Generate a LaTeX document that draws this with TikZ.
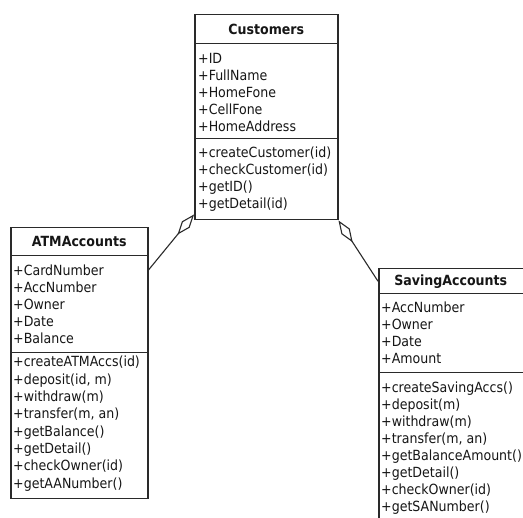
\documentclass[tikz,border=0pt]{standalone}
\usepackage{fontspec}
\setmainfont{DejaVu Sans Condensed}
\usetikzlibrary{arrows.meta,calc}
\definecolor{ink}{HTML}{161616}
\definecolor{rule}{HTML}{2A2A2A}
\begin{document}
\begin{tikzpicture}[x=1pt,y=-1pt,
  compartment/.style={draw=rule, line width=1.5pt, anchor=north west, inner sep=0pt},
  classname/.style={font=\fontsize{14}{17}\selectfont\bfseries, text=ink, inner sep=0pt},
  member/.style={font=\fontsize{14}{17}\selectfont, text=ink, anchor=base west, inner sep=0pt},
  aggregation/.style={draw=rule, line width=1.1pt, {Diamond[open, length=26pt, width=10pt]}-}
]
\useasboundingbox (0,0) rectangle (523,518);
\clip (0,0) rectangle (523,518);
\fill[white] (0,0) rectangle (523,518);

% ---------- Customers ----------
\node[compartment, minimum width=143pt, minimum height=29pt] (custH) at (194,14) {};
\node[compartment, minimum width=143pt, minimum height=95pt] (custA) at (194,43) {};
\node[compartment, minimum width=143pt, minimum height=81pt] (custM) at (194,138) {};
\node[classname] (custT) at (custH.center) {Customers};
\foreach \t [count=\i] in {+ID,+FullName,+HomeFone,+CellFone,+HomeAddress}
  \node[member] (custA\i) at ($(custA.north west)+(4,21+17*\i-17)$) {\t};
\foreach \t [count=\i] in {+createCustomer(id),+checkCustomer(id),+getID(),+getDetail(id)}
  \node[member] (custM\i) at ($(custM.north west)+(4,20+17*\i-17)$) {\t};

% ---------- ATMAccounts ----------
\node[compartment, minimum width=137pt, minimum height=28pt] (atmH) at (10,227) {};
\node[compartment, minimum width=137pt, minimum height=97pt] (atmA) at (10,255) {};
\node[compartment, minimum width=137pt, minimum height=146pt] (atmM) at (10,352) {};
\node[classname] (atmT) at (atmH.center) {ATMAccounts};
\foreach \t [count=\i] in {+CardNumber,+AccNumber,+Owner,+Date,+Balance}
  \node[member] (atmA\i) at ($(atmA.north west)+(3,21+16.8*\i-16.8)$) {\t};
\foreach \t [count=\i] in {+createATMAccs(id),{+deposit(id, m)},+withdraw(m),{+transfer(m, an)},+getBalance(),+getDetail(),+checkOwner(id),+getAANumber()}
  \node[member] (atmM\i) at ($(atmM.north west)+(3,15+17.3*\i-17.3)$) {\t};

% ---------- SavingAccounts ----------
\node[compartment, minimum width=150pt, minimum height=25pt] (savH) at (378,268) {};
\node[compartment, minimum width=150pt, minimum height=79pt] (savA) at (378,293) {};
\node[compartment, minimum width=150pt, minimum height=160pt] (savM) at (378,372) {};
\node[classname] (savT) at ($(savH.center)+(-3,0)$) {SavingAccounts};
\foreach \t [count=\i] in {+AccNumber,+Owner,+Date,+Amount}
  \node[member] (savA\i) at ($(savA.north west)+(3,20+17*\i-17)$) {\t};
\foreach \t [count=\i] in {+createSavingAccs(),+deposit(m),+withdraw(m),{+transfer(m, an)},+getBalanceAmount(),+getDetail(),+checkOwner(id),+getSANumber()}
  \node[member] (savM\i) at ($(savM.north west)+(3,21+17*\i-17)$) {\t};

% ---------- aggregations ----------
\draw[aggregation] ($(custM.south west)+(0,-6)$) -- ($(atmA.north east)+(0,15)$);
\draw[aggregation] (custM.south east) -- (savH.west);
\end{tikzpicture}
\end{document}
